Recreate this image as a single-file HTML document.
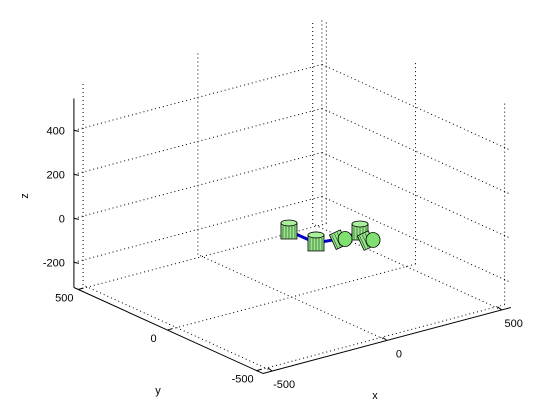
<!DOCTYPE html>
<html><head><meta charset="utf-8"><style>
html,body{margin:0;padding:0;background:#fff;}
svg{display:block;font-family:"Liberation Sans",sans-serif;}
</style></head><body>
<svg id="chart" width="560" height="420" viewBox="0 0 560 420" xmlns="http://www.w3.org/2000/svg">
<rect width="560" height="420" fill="#fff"/>
<g id="grid"></g><g id="axes"></g><g id="robot"></g>
</svg>
<script>
const xTicks=[-500,0,500];
const yTicks=[-500,0,500];
const zTicks=[-200,0,200,400];
const jointX=[-25,-23,84,164,155];
const jointY=[-18,-167,-187,-173,-252];
const jointZ=[0,0,0,0,0];
const jointSideways=[0,0,1,0,1];
const XMIN=-540,XMAX=540,YMIN=-535,YMAX=525,ZMIN=-314,ZMAX=545;
const NS='http://www.w3.org/2000/svg';
function P(x,y,z){
  return [291.5+0.2296*x-0.1783*y, 228-0.0611*x-0.0811*y-0.22*z];
}
function mk(parent,tag,attrs){
  const e=document.createElementNS(NS,tag);
  for(const k in attrs)e.setAttribute(k,attrs[k]);
  document.getElementById(parent).appendChild(e);return e;
}
function line(parent,a,b,dotted,name){
  const e=mk(parent,'line',{x1:a[0],y1:a[1],x2:b[0],y2:b[1],stroke:'#000','stroke-width':1,'stroke-dasharray':dotted?'1 3':'none'});
  
  
  return e;
}
xTicks.forEach(x=>{line('grid',P(x,YMIN,ZMIN),P(x,YMAX,ZMIN),true,'floor-grid-x');
  line('grid',P(x,YMAX,ZMIN),P(x,YMAX,ZMAX+60),true,'back-wall-grid-x');});
yTicks.forEach(y=>{line('grid',P(XMIN,y,ZMIN),P(XMAX,y,ZMIN),true,'floor-grid-y');
  line('grid',P(XMAX,y,ZMIN),P(XMAX,y,ZMAX+60),true,'side-wall-grid-y');});
zTicks.forEach(z=>{line('grid',P(XMIN,YMAX,z),P(XMAX,YMAX,z),true,'back-wall-grid-z');
  line('grid',P(XMAX,YMAX,z),P(XMAX,YMIN,z),true,'side-wall-grid-z');});
line('grid',P(XMAX,YMAX,ZMIN),P(XMAX,YMAX,ZMAX+60),true,'back-corner-edge');
line('axes',P(XMIN,YMAX,ZMIN),P(XMIN,YMAX,ZMAX),false,'z-axis');
line('axes',P(XMIN,YMAX,ZMIN),P(XMIN,YMIN,ZMIN),false,'y-axis');
line('axes',P(XMIN,YMIN,ZMIN),P(XMAX,YMIN,ZMIN),false,'x-axis');
function txt(x,y,s,anchor,name,extra){
  const t=mk('axes','text',Object.assign({x:x,y:y,'font-size':11,'text-anchor':anchor,fill:'#000'},extra||{}));
  t.textContent=s;
  
  
}
zTicks.forEach(z=>{const p=P(XMIN,YMAX,z);line('axes',p,[p[0]+5,p[1]+1],false,'z-tick');
  txt(p[0]-9,p[1]+4,String(z),'end','z-tick-label');});
yTicks.forEach(y=>{const p=P(XMIN,y,ZMIN);line('axes',p,[p[0]+5,p[1]-1.5],false,'y-tick');
  txt(p[0]-14,p[1]+12,String(y),'middle','y-tick-label');});
xTicks.forEach(x=>{const p=P(x,YMIN,ZMIN);line('axes',p,[p[0]-4,p[1]-3],false,'x-tick');
  txt(p[0]+12,p[1]+17,String(x),'middle','x-tick-label');});
txt(375,399,'x','middle','x-axis-title');
txt(158,394,'y','middle','y-axis-title');
txt(28,196,'z','middle','z-axis-title',{transform:'rotate(-90 28 196)'});
for(let i=0;i<jointX.length-1;i++){
  const a=P(jointX[i],jointY[i],jointZ[i]),b=P(jointX[i+1],jointY[i+1],jointZ[i+1]);
  const l=mk('robot','line',{x1:a[0],y1:a[1],x2:b[0],y2:b[1],stroke:'#0000cc','stroke-width':3});
  
  
}
function sub(g,tag,attrs){const e=document.createElementNS(NS,tag);for(const k in attrs)e.setAttribute(k,attrs[k]);g.appendChild(e);return e;}
for(let i=0;i<jointX.length;i++){
  const p=P(jointX[i],jointY[i],jointZ[i]);
  const g=mk('robot','g',{});
  
  
  if(jointSideways[i]){
    sub(g,'rect',{x:p[0]-12,y:p[1]-9,width:12,height:16,fill:'#99e68c',stroke:'#000','stroke-width':0.8,transform:'rotate(-25 '+p[0]+' '+p[1]+')'});
    for(let k=-10;k<=-2;k+=3)sub(g,'line',{x1:p[0]+k,x2:p[0]+k,y1:p[1]-8,y2:p[1]+6,stroke:'#2a5a2a','stroke-width':0.7,transform:'rotate(-25 '+p[0]+' '+p[1]+')'});
    sub(g,'ellipse',{cx:p[0]+1,cy:p[1]+1,rx:7,ry:7.5,fill:'#7fe070',stroke:'#000','stroke-width':0.8});
  } else {
    const w=8,h=8;
    sub(g,'rect',{x:p[0]-w,y:p[1]-h,width:2*w,height:2*h,fill:'#99e68c',stroke:'#000','stroke-width':0.8});
    for(let k=-6;k<=6;k+=3)sub(g,'line',{x1:p[0]+k,x2:p[0]+k,y1:p[1]-h+3,y2:p[1]+h,stroke:'#2a5a2a','stroke-width':0.7});
    sub(g,'ellipse',{cx:p[0],cy:p[1]-h,rx:w,ry:3,fill:'#aaf09c',stroke:'#000','stroke-width':0.8});
  }
}
</script>
</body></html>
